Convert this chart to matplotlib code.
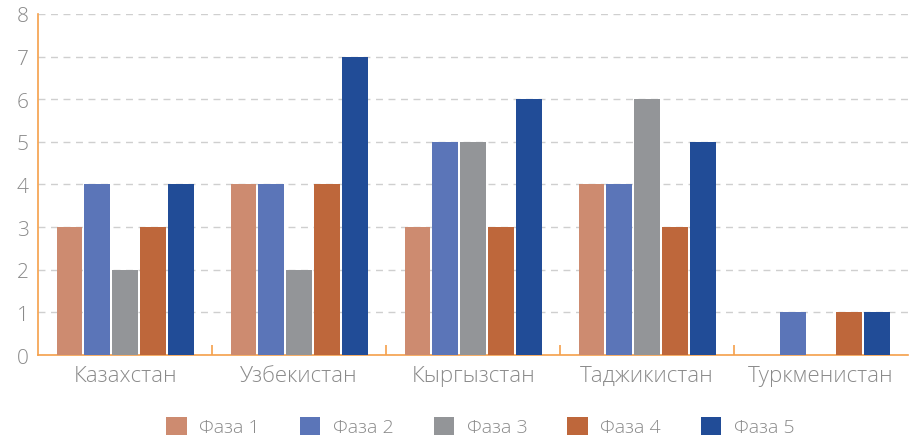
import numpy as np
import matplotlib.pyplot as plt

countries = ['Казахстан', 'Узбекистан', 'Кыргызстан', 'Таджикистан', 'Туркменистан']
phases = ['Фаза 1', 'Фаза 2', 'Фаза 3', 'Фаза 4', 'Фаза 5']
phase1 = [3, 4, 3, 4, 0]
phase2 = [4, 4, 5, 4, 1]
phase3 = [2, 2, 5, 6, 0]
phase4 = [3, 4, 3, 3, 1]
phase5 = [4, 7, 6, 5, 1]
colors = ['#CD8B70', '#5B75B8', '#939598', '#BE673B', '#214C97']

plt.rcParams['font.family'] = ['Open Sans', 'DejaVu Sans']
plt.rcParams['font.weight'] = 'light'
text_color = '#8a8a8a'
axis_color = '#F5A04A'

fig = plt.figure(figsize=(9.1, 4.39), dpi=100)
ax = fig.add_axes([0.042, 0.189, 0.956, 0.777])

x = np.arange(len(countries))
step = 0.16
for i, (vals, name) in enumerate(zip([phase1, phase2, phase3, phase4, phase5], phases)):
    ax.bar(x + (i - 2) * step, vals, width=step * 0.93, color=colors[i], label=name, zorder=3)

ax.set_xlim(-0.5, len(countries) - 0.5)
ax.set_ylim(0, 8)
ax.set_yticks(range(0, 9))
ax.grid(axis='y', linestyle=(0, (5, 4)), color='#cfcfcf', linewidth=1, zorder=0)

for side in ['top', 'right']:
    ax.spines[side].set_visible(False)
for side in ['left', 'bottom']:
    ax.spines[side].set_color(axis_color)
    ax.spines[side].set_linewidth(1.2)

ax.set_xticks(x)
ax.set_xticklabels(countries, fontsize=16, color=text_color)
ax.tick_params(axis='x', length=0, pad=7)
ax.set_xticks(x[:-1] + 0.5, minor=True)
ax.tick_params(axis='x', which='minor', direction='in', length=7, color=axis_color, width=1.2)
ax.tick_params(axis='y', length=0, pad=7, labelsize=15, labelcolor=text_color)

handles, labels = ax.get_legend_handles_labels()
leg = fig.legend(handles, labels, loc='center', bbox_to_anchor=(0.528, 0.026), ncol=5,
                 frameon=False, fontsize=14, handlelength=1.05, handleheight=1.05,
                 columnspacing=2.05, handletextpad=0.65, borderpad=0.2)
for t in leg.get_texts():
    t.set_color(text_color)

fig.savefig('out.png', dpi=100)
